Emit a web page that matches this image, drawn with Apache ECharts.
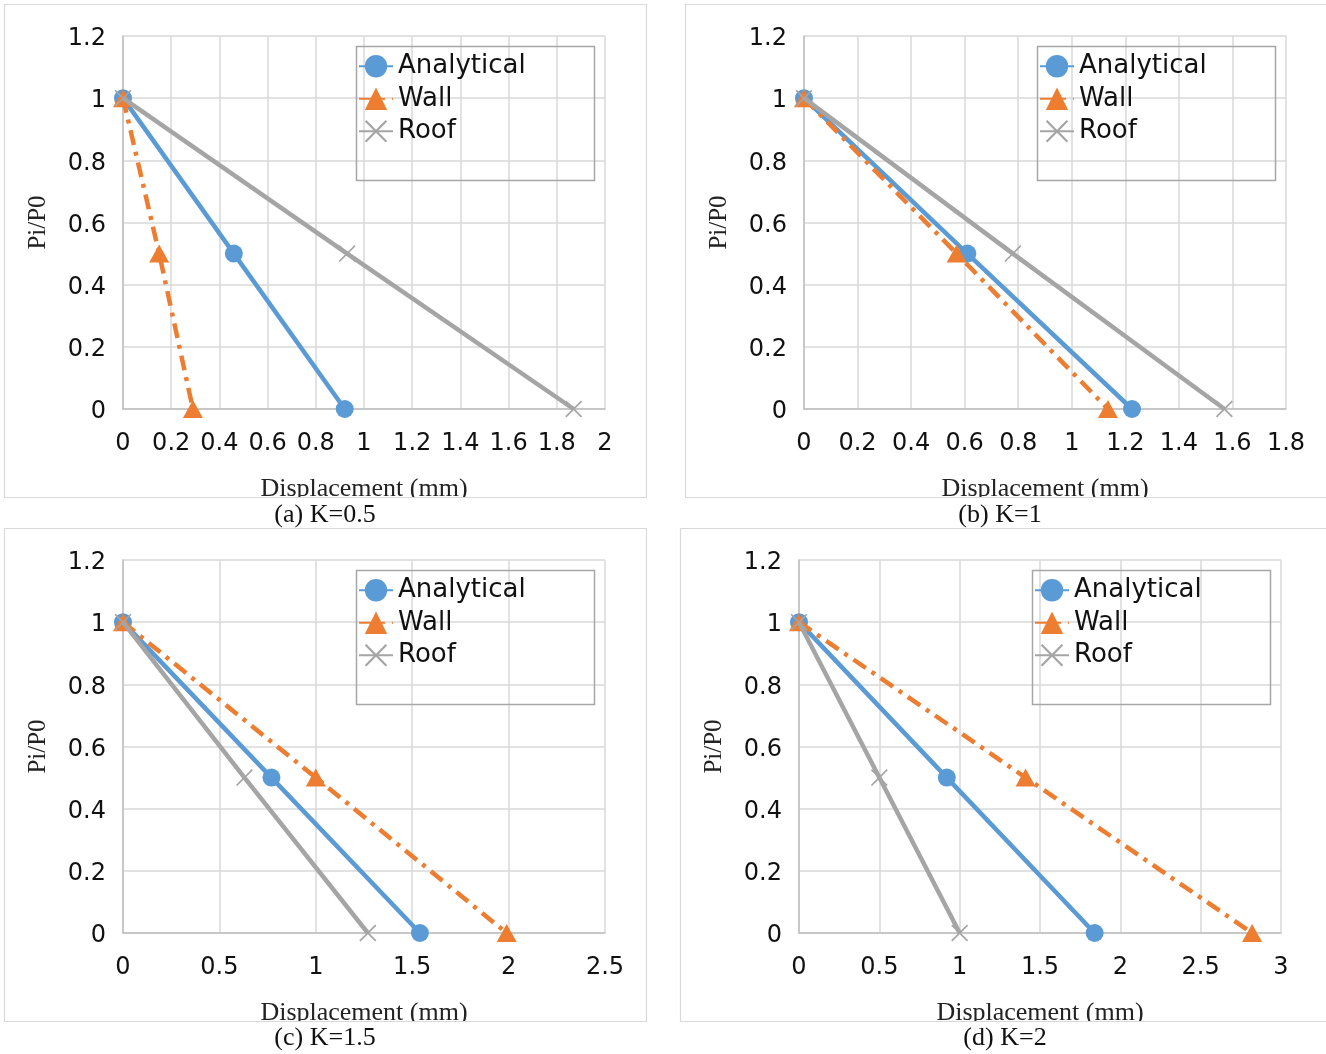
<!DOCTYPE html>
<html>
<head>
<meta charset="utf-8">
<script src="https://cdn.jsdelivr.net/npm/echarts@6/dist/echarts.min.js"></script>
<style>
html,body{margin:0;padding:0;background:#fff;}
#chart{width:1326px;height:1054px;}
</style>
</head>
<body>
<div id="chart"></div>
<script>
// ---- data (Pi/P0 levels and displacements in mm) ----
const pressureLevels = [1, 0.5, 0];

const analyticalK05 = [0, 0.46, 0.92];
const wallK05       = [0, 0.15, 0.29];
const roofK05       = [0, 0.93, 1.87];

const analyticalK1  = [0, 0.61, 1.225];
const wallK1        = [0, 0.57, 1.135];
const roofK1        = [0, 0.78, 1.57];

const analyticalK15 = [0, 0.77, 1.54];
const wallK15       = [0, 1.00, 1.99];
const roofK15       = [0, 0.63, 1.27];

const analyticalK2  = [0, 0.92, 1.84];
const wallK2        = [0, 1.41, 2.82];
const roofK2        = [0, 0.50, 1.00];

const seriesNames = ['Analytical', 'Wall', 'Roof'];
const captions = ['(a) K=0.5', '(b) K=1', '(c) K=1.5', '(d) K=2'];
const xMax = [2, 1.8, 2.5, 3];
const xStep = [0.2, 0.2, 0.5, 0.5];
const yMax = 1.2;
const yStep = 0.2;
const xAxisTitle = 'Displacement (mm)';
const yAxisTitle = 'Pi/P0';

// ---- layout ----
const panels = [
  {gl: 123, gt: 36,  frame: [4, 4, 642, 493],   legend: [356, 46],  cap: [325, 515]},
  {gl: 804, gt: 36,  frame: [685, 4, 660, 493], legend: [1037, 46], cap: [1000, 515]},
  {gl: 123, gt: 560, frame: [4, 528, 642, 493], legend: [356, 570], cap: [325, 1038]},
  {gl: 799, gt: 560, frame: [680, 528, 660, 493], legend: [1032, 570], cap: [1005, 1038]}
];
const panelData = [
  [analyticalK05, wallK05, roofK05],
  [analyticalK1, wallK1, roofK1],
  [analyticalK15, wallK15, roofK15],
  [analyticalK2, wallK2, roofK2]
];

const BLUE = '#5B9BD5', ORANGE = '#ED7D31', GRAY = '#A5A5A5';
const SANS = "'DejaVu Sans', Arial, sans-serif";
const SERIF = "'Liberation Serif', 'Times New Roman', serif";
const crossPath = 'path://M0,1.4L1.4,0L10,8.6L18.6,0L20,1.4L11.4,10L20,18.6L18.6,20L10,11.4L1.4,20L0,18.6L8.6,10Z';

function pairs(xs) { return xs.map((x, i) => [x, pressureLevels[i]]); }
function tickText(v) { return '{v|' + String(Number(v.toFixed(2))) + '}'; }

const grid = [], xAxis = [], yAxis = [], series = [], legend = [], graphic = [];

// white covers (clip axis titles like the reference) - drawn first
graphic.push({type: 'rect', z: 100, shape: {x: 0, y: 497.5, width: 1326, height: 30}, style: {fill: '#fff'}});
graphic.push({type: 'rect', z: 100, shape: {x: 0, y: 1021.5, width: 1326, height: 33}, style: {fill: '#fff'}});

panels.forEach((p, i) => {
  grid.push({left: p.gl, top: p.gt, width: 482, height: 373, containLabel: false});
  xAxis.push({
    type: 'value', gridIndex: i, min: 0, max: xMax[i], interval: xStep[i],
    name: xAxisTitle, nameLocation: 'middle', nameGap: 67,
    nameTextStyle: {fontFamily: SERIF, fontSize: 26, color: '#222'},
    axisLine: {show: true, lineStyle: {color: '#BFBFBF', width: 1.5}},
    axisTick: {show: false},
    axisLabel: {fontFamily: SANS, fontSize: 24, color: '#111', margin: 23},
    splitLine: {show: true, lineStyle: {color: '#D9D9D9', width: 1.5}}
  });
  yAxis.push({
    type: 'value', gridIndex: i, min: 0, max: yMax, interval: yStep,
    name: yAxisTitle, nameLocation: 'middle', nameGap: 72,
    nameTextStyle: {fontFamily: SERIF, fontSize: 25, color: '#222'},
    axisLine: {show: true, lineStyle: {color: '#BFBFBF', width: 1.5}},
    axisTick: {show: false},
    axisLabel: {
      margin: 17, formatter: tickText,
      rich: {v: {fontFamily: SANS, fontSize: 24, color: '#111', padding: [6, 0, 0, 0]}}
    },
    splitLine: {show: true, lineStyle: {color: '#D9D9D9', width: 1.5}}
  });
  const [an, wa, ro] = panelData[i];
  series.push({
    name: seriesNames[0], type: 'line', xAxisIndex: i, yAxisIndex: i, data: pairs(an),
    symbol: 'circle', symbolSize: 18, color: BLUE,
    lineStyle: {color: BLUE, width: 4.5}, itemStyle: {color: BLUE}, z: 2
  });
  series.push({
    name: seriesNames[1], type: 'line', xAxisIndex: i, yAxisIndex: i, data: pairs(wa),
    symbol: 'triangle', symbolSize: [20, 18], color: ORANGE,
    lineStyle: {color: ORANGE, width: 4.5, type: [15, 7, 4, 7], cap: 'butt'},
    itemStyle: {color: ORANGE}, z: 3
  });
  series.push({
    name: seriesNames[2], type: 'line', xAxisIndex: i, yAxisIndex: i, data: pairs(ro),
    symbol: crossPath, symbolSize: 17, color: GRAY,
    lineStyle: {color: GRAY, width: 4.5}, itemStyle: {color: GRAY}, z: 4
  });
  legend.push({
    orient: 'vertical', left: p.legend[0] + 2, top: p.legend[1] + 4,
    data: seriesNames, itemWidth: 34, itemHeight: 28, itemGap: 0, padding: 0,
    selectedMode: false,
    textStyle: {fontFamily: SANS, fontSize: 26, color: '#111', lineHeight: 32.5}
  });
  // frame
  graphic.push({type: 'rect', z: 101, silent: true,
    shape: {x: p.frame[0] + 0.5, y: p.frame[1] + 0.5, width: p.frame[2], height: p.frame[3]},
    style: {fill: 'none', stroke: '#D9D9D9', lineWidth: 1.2}});
  // legend box
  graphic.push({type: 'rect', z: 1, silent: true,
    shape: {x: p.legend[0] + 0.5, y: p.legend[1] + 0.5, width: 238, height: 134},
    style: {fill: 'none', stroke: '#A6A6A6', lineWidth: 1.5}});
  // caption
  graphic.push({type: 'text', z: 102, x: p.cap[0], y: p.cap[1],
    style: {text: captions[i], fontFamily: SERIF, fontSize: 26, fill: '#111',
      textAlign: 'center', textVerticalAlign: 'middle'}});
});

const chart = echarts.init(document.getElementById('chart'), null, {renderer: 'canvas'});
chart.setOption({
  animation: false,
  backgroundColor: '#fff',
  grid, xAxis, yAxis, series, legend, graphic
});
</script>
</body>
</html>
